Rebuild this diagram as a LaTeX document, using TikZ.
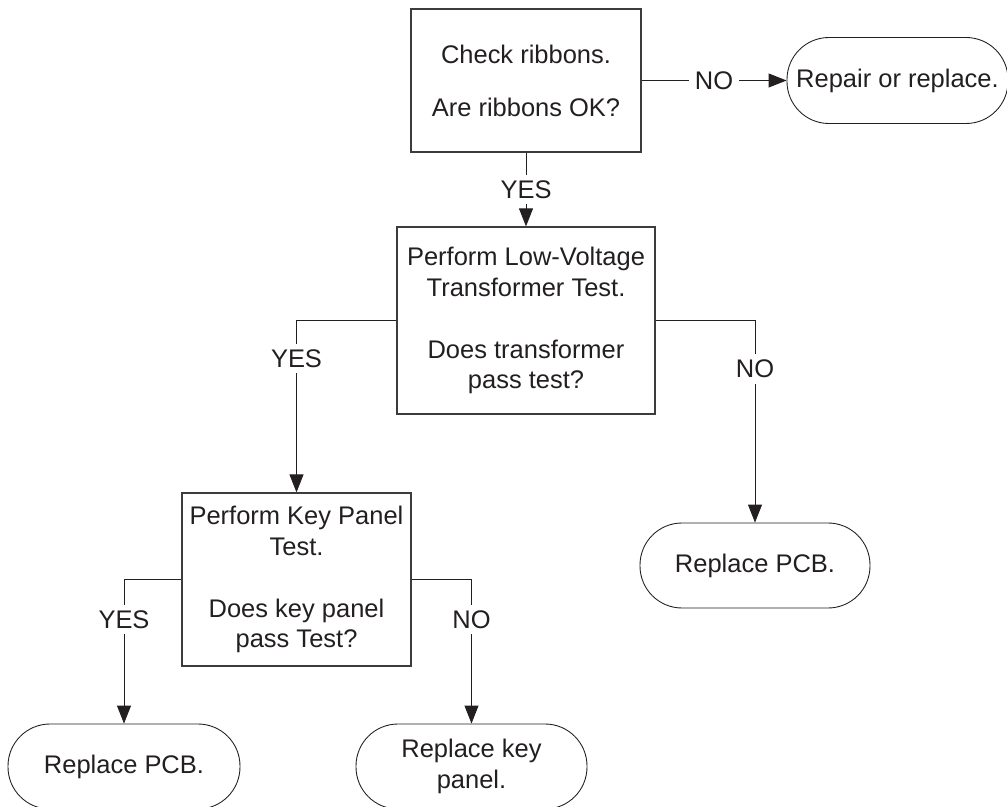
\documentclass[tikz,border=0pt]{standalone}
\usepackage{fontspec}
\setmainfont{Liberation Sans}
\usetikzlibrary{arrows.meta, positioning}
\usepackage{xcolor}
\definecolor{inkcolor}{RGB}{35, 31, 32}
\definecolor{edgecolor}{RGB}{60, 60, 60}

\begin{document}
\begin{tikzpicture}[
    font=\fontsize{14.5}{17.6}\selectfont,
    stepbox/.style={rectangle, draw=edgecolor, line width=0.7pt, align=center,
                    text=inkcolor, inner sep=0pt},
    endbox/.style={rectangle, rounded corners=0.84cm, draw=inkcolor, line width=0.5pt,
                   align=center, text=inkcolor, inner sep=0pt, minimum height=1.7cm},
    lbl/.style={fill=white, text=inkcolor, inner sep=0.11cm},
    flow/.style={-{Triangle[length=0.36cm, width=0.28cm]}, line width=0.5pt, inkcolor}
]
\useasboundingbox (0,0) rectangle (20.14,-16.14);

% Checks
\node[stepbox, minimum width=4.6cm, minimum height=2.86cm] (ribbons) at (10.52,-1.61)
    {Check ribbons.\\[0.44cm]Are ribbons OK?};
\node[stepbox, minimum width=5.16cm, minimum height=3.74cm] (transformer) at (10.52,-6.41)
    {Perform Low-Voltage\\Transformer Test.\\[17.6pt]Does transformer\\pass test?};
\node[stepbox, minimum width=4.58cm, minimum height=3.46cm] (keytest) at (5.93,-11.59)
    {Perform Key Panel\\Test.\\[17.6pt]Does key panel\\pass Test?};

% Outcomes
\node[endbox, minimum width=4.42cm, minimum height=1.72cm] (repair) at (17.95,-1.61) {Repair or replace.};
\node[endbox, minimum width=4.6cm] (pcbright) at (15.1,-11.31) {Replace PCB.};
\node[endbox, minimum width=4.64cm] (pcbleft) at (2.48,-15.33) {Replace PCB.};
\node[endbox, minimum width=4.62cm] (keypanel) at (9.43,-15.33) {Replace key\\panel.};

% Connections
\draw[flow] (ribbons.east) -- node[lbl] {NO} (repair.west);
\draw[flow] (ribbons.south) -- node[lbl] {YES} (transformer.north);
\draw[flow] (transformer.west) -| node[lbl, pos=0.61] {YES} (keytest.north);
\draw[flow] (transformer.east) -| node[lbl, pos=0.62] {NO} (pcbright.north);
\draw[flow] (keytest.west) -| node[lbl, pos=0.64] {YES} (pcbleft.north);
\draw[flow] (keytest.east) -| node[lbl, pos=0.64] {NO} (keypanel.north);

\end{tikzpicture}
\end{document}
